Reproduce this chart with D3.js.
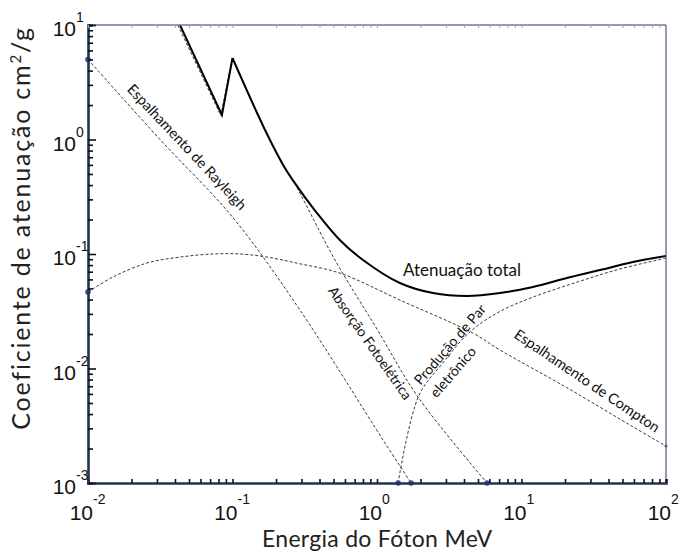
<!DOCTYPE html>
<html>
<head>
<meta charset="utf-8">
<script src="https://cdn.jsdelivr.net/npm/d3@7"></script>
<style>
  body { margin: 0; background: #fff; }
  text { font-family: "Lato", "Open Sans", sans-serif; }
  .tick-label { font-family: "Liberation Sans", Arial, sans-serif; fill: #111; }
</style>
</head>
<body>
<div id="chart"></div>
<script>
// energies (MeV) and mass attenuation coefficients (cm2/g)
var totalE     = [0.0433, 0.0845, 0.1, 0.168, 0.224, 0.262, 0.384, 0.555, 0.8, 1.44, 2.44, 4.19, 7.1, 12.0, 20.6, 34.9, 59.0, 100];
var totalMu    = [10, 1.64, 5.15, 1.21, 0.6, 0.44, 0.228, 0.132, 0.0887, 0.0558, 0.0456, 0.043, 0.0456, 0.0515, 0.0617, 0.0724, 0.0851, 0.096];

var photoE     = [0.0418, 0.083, 0.1, 0.168, 0.224, 0.262, 0.512, 1.0, 1.92, 5.77];
var photoMu    = [10, 1.62, 5.15, 1.21, 0.6, 0.44, 0.0887, 0.0221, 0.00564, 0.001];

var rayleighE  = [0.01, 0.0315, 0.1, 0.293, 1.1, 1.72];
var rayleighMu = [5, 1.0, 0.21, 0.0324, 0.00238, 0.001];

var comptonE   = [0.01, 0.0149, 0.0256, 0.0433, 0.0733, 0.113, 0.173, 0.293, 0.555, 1.44, 4.6, 7.1, 20.6, 59, 100];
var comptonMu  = [0.0466, 0.063, 0.0834, 0.094, 0.1, 0.1, 0.094, 0.0821, 0.068, 0.0396, 0.0204, 0.0145, 0.0068, 0.0031, 0.0021];

var pairE      = [1.4, 1.95, 2.86, 4.4, 7.1, 12, 25, 48, 100];
var pairMu     = [0.001, 0.0058, 0.0112, 0.0209, 0.0315, 0.042, 0.0575, 0.074, 0.092];

var decades    = [-3, -2, -1, 0, 1];      // y tick exponents
var xDecades   = [-2, -1, 0, 1, 2];      // x tick exponents

var width = 683, height = 554;
var margin = { top: 25, right: 17, bottom: 71, left: 88 };

var x = d3.scaleLog().domain([0.01, 100]).range([margin.left, width - margin.right]);
var y = d3.scaleLog().domain([0.001, 10]).range([height - margin.bottom, margin.top]);

var svg = d3.select('#chart')
    .append('svg')
    .attr('width', width)
    .attr('height', height);

svg.append('defs').append('clipPath').attr('id', 'plot')
    .append('rect')
    .attr('x', margin.left).attr('y', margin.top)
    .attr('width', width - margin.left - margin.right)
    .attr('height', height - margin.top - margin.bottom);

function pts(es, ms) {
    return es.map(function(e, i) { return [e, ms[i]]; });
}

var smooth = d3.line()
    .x(function(d) { return x(d[0]); })
    .y(function(d) { return y(d[1]); })
    .curve(d3.curveCatmullRom.alpha(0.5));
var straight = d3.line()
    .x(function(d) { return x(d[0]); })
    .y(function(d) { return y(d[1]); });

var g = svg.append('g').attr('clip-path', 'url(#plot)');

// dashed component curves
function dashed(path) {
    g.append('path')
        .attr('d', path)
        .attr('fill', 'none')
        .attr('stroke', '#3a3a3a')
        .attr('stroke-width', 1)
        .attr('stroke-dasharray', '3,2');
}
var photo = pts(photoE, photoMu);
dashed(straight(photo.slice(0, 3)));
dashed(smooth(photo.slice(2)));
dashed(smooth(pts(rayleighE, rayleighMu)));
dashed(smooth(pts(comptonE, comptonMu)));
dashed(smooth(pts(pairE, pairMu)));

// total attenuation
var total = pts(totalE, totalMu);
[straight(total.slice(0, 3)), smooth(total.slice(2))].forEach(function(d) {
    g.append('path')
        .attr('d', d)
        .attr('fill', 'none')
        .attr('stroke', '#000')
        .attr('stroke-width', 2)
        .attr('stroke-linejoin', 'miter');
});

// little blue markers where the curves start/stop
var dots = [
    [rayleighE[0], rayleighMu[0]],
    [comptonE[0], comptonMu[0]],
    [pairE[0], pairMu[0]],
    [rayleighE[rayleighE.length - 1], 0.001],
    [photoE[photoE.length - 1], 0.001],
    [comptonE[comptonE.length - 1], comptonMu[comptonMu.length - 1]]
];
svg.selectAll('circle.dot')
    .data(dots)
    .enter()
    .append('circle')
    .attr('class', 'dot')
    .attr('cx', function(d) { return x(d[0]); })
    .attr('cy', function(d) { return y(d[1]); })
    .attr('r', function(d, i) { return i == 5 ? 1.5 : 2.8; })
    .attr('fill', '#3b4e9e');

// frame: light top/right, heavy left/bottom
var x0 = margin.left, x1 = width - margin.right, y0 = margin.top, y1 = height - margin.bottom;
svg.append('line').attr('x1', x0).attr('x2', x1).attr('y1', y0).attr('y2', y0)
    .attr('stroke', '#6b7a93').attr('stroke-width', 1.5);
svg.append('line').attr('x1', x1).attr('x2', x1).attr('y1', y0).attr('y2', y1)
    .attr('stroke', '#4d5c7a').attr('stroke-width', 1.2);

// ticks
var minorX = [], minorY = [];
xDecades.forEach(function(p) { for (var k = 1; k < 10; k++) if (p < 2 || k == 1) minorX.push(k * Math.pow(10, p)); });
decades.forEach(function(p) { for (var k = 1; k < 10; k++) if (p < 1 || k == 1) minorY.push(k * Math.pow(10, p)); });

var xAxis = d3.axisBottom(x).tickValues(minorX).tickSize(-4).tickFormat('');
var yAxis = d3.axisLeft(y).tickValues(minorY).tickSize(-5).tickFormat('');

var gx = svg.append('g').attr('transform', 'translate(0,' + y1 + ')').call(xAxis);
var gy = svg.append('g').attr('transform', 'translate(' + x0 + ',0)').call(yAxis);
gy.selectAll('.tick line').attr('x2', function(d) { return Math.abs(Math.log10(d) % 1) < 1e-9 ? 8 : 5; });
[gx, gy].forEach(function(a) {
    a.select('.domain').attr('stroke', '#243352').attr('stroke-width', 2.6);
    a.selectAll('.tick line').attr('stroke', '#111').attr('stroke-width', 1.6);
});

// faint ticks along the top
svg.append('g').attr('transform', 'translate(0,' + y0 + ')')
    .call(d3.axisTop(x).tickValues(minorX).tickSize(-3).tickFormat(''))
    .call(function(a) {
        a.select('.domain').remove();
        a.selectAll('.tick line').attr('stroke', '#9aa4b5').attr('stroke-width', 1);
    });

// tick labels 10^n
xDecades.forEach(function(p) {
    svg.append('text').attr('class', 'tick-label')
        .attr('x', x(Math.pow(10, p)) + 5).attr('y', y1 + 37)
        .attr('text-anchor', 'end').attr('font-size', 21).text('10');
    svg.append('text').attr('class', 'tick-label')
        .attr('x', x(Math.pow(10, p)) + 5).attr('y', y1 + 21)
        .attr('font-size', 14).text(String(p));
});
decades.forEach(function(p) {
    svg.append('text').attr('class', 'tick-label')
        .attr('x', x0 - 12).attr('y', y(Math.pow(10, p)) + 11)
        .attr('text-anchor', 'end').attr('font-size', 21).text('10');
    svg.append('text').attr('class', 'tick-label')
        .attr('x', x0 - 12).attr('y', y(Math.pow(10, p)) - 3)
        .attr('font-size', 14).text(String(p));
});

// axis titles
svg.append('text')
    .attr('x', x(1)).attr('y', height - 7)
    .attr('text-anchor', 'middle').attr('font-size', 23).attr('fill', '#222')
    .attr('textLength', 230).attr('lengthAdjust', 'spacing')
    .text('Energia do Fóton MeV');
svg.append('text')
    .attr('transform', 'translate(30,' + 228 + ') rotate(-90)')
    .attr('text-anchor', 'middle').attr('font-size', 25).attr('fill', '#222')
    .attr('letter-spacing', 1.8)
    .html('Coeficiente de atenuação cm<tspan dy="-9" font-size="15">2</tspan><tspan dy="9">/g</tspan>');

// curve annotations (position in data units, angle in degrees)
var labelText  = ['Espalhamento de Rayleigh', 'Atenuação total', 'Absorção Fotoelétrica', 'Produção de Par', 'eletrônico', 'Espalhamento de Compton'];
var labelE     = [0.0484, 3.87, 0.894, 3.2, 3.36, 28.4];
var labelMu    = [0.86, 0.064, 0.0167, 0.0162, 0.0093, 0.0078];
var labelAngle = [46.7, 0, 55, -49, -49, 34];
var labelSize  = [14.5, 17, 14, 14, 14, 14.5];

labelText.forEach(function(s, i) {
    svg.append('text')
        .attr('transform', 'translate(' + x(labelE[i]) + ',' + y(labelMu[i]) + ') rotate(' + labelAngle[i] + ')')
        .attr('text-anchor', 'middle')
        .attr('dy', i == 1 ? 0 : '0.35em')
        .attr('font-size', labelSize[i])
        .attr('fill', '#111')
        .text(s);
});
</script>
</body>
</html>
